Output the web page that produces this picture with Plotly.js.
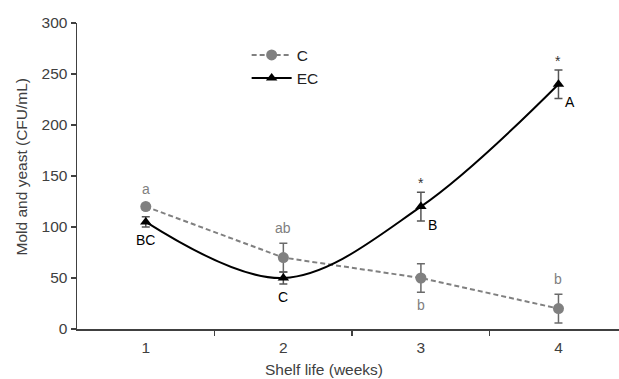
<!DOCTYPE html>
<html><head><meta charset="utf-8">
<script src="https://cdn.plot.ly/plotly-3.0.1.min.js"></script>
<style>html,body{margin:0;padding:0;background:#fff}#chart{width:619px;height:379px}</style>
</head><body><div id="chart"></div>
<script>
var weeks = [1, 2, 3, 4];
var weekLabels = ['1', '2', '3', '4'];
var cValues = [120, 70, 50, 20];
var cErrors = [3, 14, 14, 14];
var ecValues = [105, 50, 120, 240];
var ecErrors = [5, 6, 14, 14];
var cLetters = ['a', 'ab', 'b', 'b'];
var cLetterSide = ['above', 'above', 'below', 'above'];
var ecLetters = ['BC', 'C', 'B', 'A'];
var ecLetterSide = ['below', 'below', 'right', 'right'];
var ecStars = ['', '', '*', '*'];
var xTitle = 'Shelf life (weeks)';
var yTitle = 'Mold and yeast (CFU/mL)';

var font = 'Liberation Sans, Arial, sans-serif';
var gray = '#808080';
var axisColor = '#404040';

var traces = [
  {x: weeks, y: cValues, name: 'C', type: 'scatter', mode: 'lines+markers',
   line: {color: gray, width: 2, dash: '5px,3px'},
   marker: {symbol: 'circle', size: 11, color: gray},
   error_y: {type: 'data', array: cErrors, visible: true, color: '#6a6a6a', thickness: 1.5, width: 4}},
  {x: weeks, y: ecValues, name: 'EC', type: 'scatter', mode: 'lines+markers',
   line: {color: '#000', width: 2, shape: 'spline', smoothing: 1},
   marker: {symbol: 'triangle-up', size: 10, color: '#000'},
   error_y: {type: 'data', array: ecErrors, visible: true, color: '#555', thickness: 1.5, width: 4}}
];

var annotations = [];
function addLetter(x, y, err, text, side, color) {
  var a = {x: x, text: text, showarrow: false, font: {family: font, size: 14, color: color}};
  if (side === 'above') { a.y = y + err; a.yshift = 15; }
  else if (side === 'below') { a.y = y - err; a.yshift = -13; }
  else { a.y = y; a.xshift = 12; a.yshift = -18; }
  annotations.push(a);
}
for (var i = 0; i < weeks.length; i++) {
  addLetter(weeks[i], cValues[i], cErrors[i], cLetters[i], cLetterSide[i], gray);
  addLetter(weeks[i], ecValues[i], ecErrors[i], ecLetters[i], ecLetterSide[i], '#000');
  if (ecStars[i]) {
    annotations.push({x: weeks[i], y: ecValues[i] + ecErrors[i], text: ecStars[i], showarrow: false,
      yshift: 9, font: {family: font, size: 14, color: '#333'}});
  }
}
annotations.push({xref: 'paper', yref: 'paper', x: 0.456, y: 0, yshift: -40, xanchor: 'center', yanchor: 'middle',
  text: xTitle, showarrow: false, font: {family: font, size: 15.5, color: axisColor}});
annotations.push({xref: 'paper', yref: 'paper', x: 0, xshift: -56, y: 0.528, xanchor: 'center', yanchor: 'middle',
  text: yTitle, textangle: -90, showarrow: false, font: {family: font, size: 15.5, color: axisColor}});

var layout = {
  width: 619, height: 379,
  margin: {l: 77, r: 0, t: 23, b: 50},
  paper_bgcolor: '#fff', plot_bgcolor: '#fff',
  font: {family: font, size: 15.5, color: axisColor},
  showlegend: true,
  legend: {x: 0.313, y: 0.95, xanchor: 'left', yanchor: 'top', bgcolor: 'rgba(0,0,0,0)',
    font: {family: font, size: 15.5, color: '#222'}, tracegroupgap: 8, itemwidth: 40},
  xaxis: {range: [0.5, 4.44], tickmode: 'array', tickvals: weeks, ticktext: weekLabels,
    ticks: '', ticklabelstandoff: 4, showgrid: false, zeroline: false, showline: true, linecolor: axisColor, linewidth: 1.5,
    minor: {tickmode: 'array', tickvals: [1.5, 2.5, 3.5], ticks: 'outside', ticklen: 5, tickcolor: axisColor, tickwidth: 1.5, showgrid: false},
    tickfont: {family: font, size: 15.5, color: axisColor}},
  yaxis: {range: [0, 300], tickvals: [0, 50, 100, 150, 200, 250, 300], ticks: 'outside', ticklen: 5,
    tickcolor: axisColor, tickwidth: 1.5, showgrid: false, zeroline: false, showline: true,
    linecolor: axisColor, linewidth: 1.5,
    tickfont: {family: font, size: 15.5, color: axisColor}},
  annotations: annotations
};

Plotly.newPlot('chart', traces, layout, {displayModeBar: false, staticPlot: true});
</script>
</body></html>
